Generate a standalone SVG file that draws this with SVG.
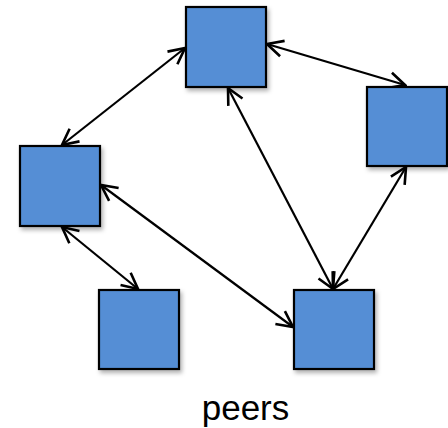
<svg xmlns="http://www.w3.org/2000/svg" width="448" height="428" viewBox="0 0 448 428">
<defs>
<filter id="sh" x="-20%" y="-20%" width="150%" height="150%"><feDropShadow dx="2" dy="3" stdDeviation="2" flood-color="#000" flood-opacity="0.3"/></filter>
<marker id="ah" viewBox="0 0 20 20" refX="18" refY="10" markerWidth="20" markerHeight="20" markerUnits="userSpaceOnUse" orient="auto-start-reverse">
<path d="M2,2 L18,10 L2,18" fill="none" stroke="#000" stroke-width="2.6"/>
</marker>
<style>
.n{fill:#558ED5;stroke:#000;stroke-width:2.2;filter:url(#sh)}
.c{stroke:#000;stroke-width:2.2;fill:none;marker-start:url(#ah);marker-end:url(#ah)}
.t{font-family:"Liberation Sans",Arial,sans-serif;font-size:35px;fill:#000}
</style>
</defs>
<rect width="448" height="428" fill="#fff"/>
<g id="connectors">
<line class="c" x1="62" y1="145" x2="185" y2="48"/>
<line class="c" x1="267" y1="44" x2="405" y2="85"/>
<line class="c" x1="228" y1="88" x2="333" y2="289"/>
<line class="c" x1="406" y1="167" x2="333" y2="289"/>
<line class="c" x1="101" y1="185" x2="293" y2="327"/>
<line class="c" x1="62" y1="227" x2="138" y2="289"/>
</g>
<g id="top"><rect class="n" x="186" y="7" width="80" height="80"/></g>
<g id="right"><rect class="n" x="367" y="87" width="80" height="79"/></g>
<g id="left"><rect class="n" x="20" y="146" width="80" height="80"/></g>
<g id="bottom-left"><rect class="n" x="99" y="290" width="80" height="79"/></g>
<g id="bottom-right"><rect class="n" x="294" y="290" width="80" height="79"/></g>
<text class="t" x="245.5" y="420" text-anchor="middle">peers</text>
</svg>
